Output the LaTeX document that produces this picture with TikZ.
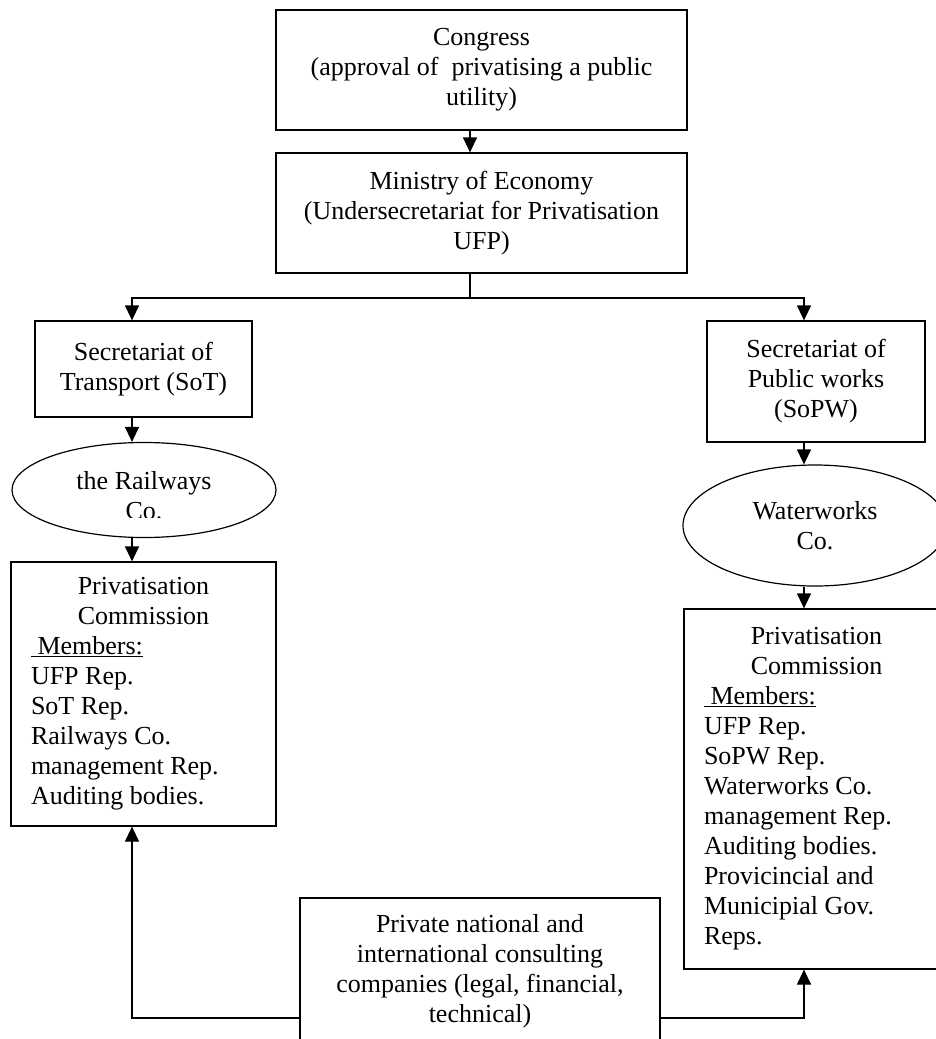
\documentclass[tikz,border=0pt]{standalone}
\usepackage{fontspec}
\setmainfont{Liberation Serif}
\usetikzlibrary{
    arrows.meta,
    shapes.geometric
}

\begin{document}
\begin{tikzpicture}[
        x=1pt, y=-1pt,
        >={Triangle[length=15pt,width=14pt]},
        line width=1.2pt,
        box/.style={
            draw,
            rectangle,
            inner sep=0pt,
            align=center,
            font=\fontsize{26}{30}\selectfont
        },
        oval/.style={
            draw,
            ellipse,
            inner sep=0pt,
            align=center,
            minimum width=264pt,
            font=\fontsize{26}{30}\selectfont
        },
        members/.style={
            box,
            align=flush left,
            text width=225pt,
            minimum width=265pt
        }
    ]
        \clip (0,0) rectangle (936,1039);
        \coordinate (colL) at (132,0);
        \coordinate (colM) at (470,0);
        \coordinate (colR) at (804,0);
        \coordinate (split) at (470,298);
        \coordinate (base) at (0,1018);

        \node[box, minimum width=411pt, minimum height=120pt] (Congress) at (481.5,70)
            {Congress\\(approval of\ \ privatising a public\\utility)};
        \node[box, minimum width=411pt, minimum height=120pt] (Ministry) at (481.5,213)
            {Ministry of Economy\\(Undersecretariat for Privatisation\\UFP)};
        \node[box, minimum width=217pt, minimum height=96pt] (SoT) at (143.5,369)
            {Secretariat of\\Transport (SoT)};
        \node[box, minimum width=218pt, minimum height=121pt] (SoPW) at (816,381.5)
            {Secretariat of\\Public works\\(SoPW)};
        \node[oval, minimum height=95pt] (Rail) at (144,490) {};
        \begin{scope}
            \clip (0,440) rectangle (300,517);
            \node[align=center, font=\fontsize{26}{30}\selectfont] (RailText) at (144,496)
                {the Railways\\Co.};
        \end{scope}
        \node[oval, minimum height=121pt] (Water) at (815,525.5)
            {Waterworks\\Co.};
        \node[members, minimum height=264pt] (ComRail) at (143.5,694)
            {\makebox[\hsize]{Privatisation}\\\makebox[\hsize]{Commission}\\
             \underline{\ Members:}\\UFP Rep.\\SoT Rep.\\Railways Co.\\
             management Rep.\\Auditing bodies.};
        \node[members, minimum height=360pt] (ComWater) at (816.5,789)
            {\makebox[\hsize]{Privatisation}\\\makebox[\hsize]{Commission}\\
             \underline{\ Members:}\\UFP Rep.\\SoPW Rep.\\Waterworks Co.\\
             management Rep.\\Auditing bodies.\\Provicincial and\\
             Municipial Gov.\\Reps.};
        \node[box, minimum width=360pt, minimum height=146pt] (Consult) at (480,971)
            {Private national and\\international consulting\\companies (legal, financial,\\technical)};

        \draw[->] (Congress.south -| colM) -- (Ministry.north -| colM);
        \draw (Ministry.south -| colM) -- (split);
        \draw[->] (split) -| (SoT.north -| colL);
        \draw[->] (split) -| (SoPW.north -| colR);
        \draw[->] (SoT.south -| colL) -- (Rail.north -| colL);
        \draw[->] (Rail.south -| colL) -- (ComRail.north -| colL);
        \draw[->] (SoPW.south -| colR) -- (Water.north -| colR);
        \draw[->] (Water.south -| colR) -- (ComWater.north -| colR);
        \draw[->] (Consult.west |- base) -| (ComRail.south -| colL);
        \draw[->] (Consult.east |- base) -| (ComWater.south -| colR);
    \end{tikzpicture}
\end{document}
